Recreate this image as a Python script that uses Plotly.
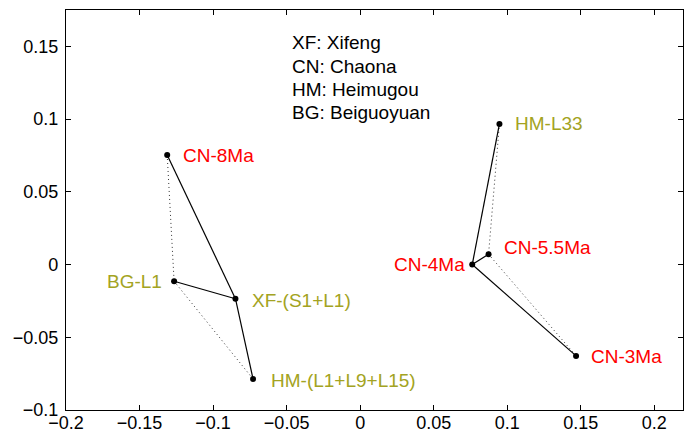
import plotly.graph_objects as go

# Data
names = ["CN-8Ma", "BG-L1", "XF-(S1+L1)", "HM-(L1+L9+L15)",
         "HM-L33", "CN-5.5Ma", "CN-4Ma", "CN-3Ma"]
xs = [-0.1312, -0.1265, -0.0848, -0.0728, 0.0947, 0.0873, 0.0762, 0.1468]
ys = [0.0753, -0.0115, -0.0235, -0.0787, 0.0967, 0.0071, 0.0, -0.0628]
groups = ["CN", "other", "other", "other", "other", "CN", "CN", "CN"]

solid_links = [(0, 2), (1, 2), (2, 3), (4, 6), (5, 6), (6, 7)]
dotted_links = [(0, 1), (1, 3), (4, 5), (5, 7)]

legend_lines = ["XF: Xifeng", "CN: Chaona", "HM: Heimugou", "BG: Beiguoyuan"]

x_ticks = [-0.2, -0.15, -0.1, -0.05, 0, 0.05, 0.1, 0.15, 0.2]
y_ticks = [-0.1, -0.05, 0, 0.05, 0.1, 0.15]

# label placement (pixel offsets, anchor)
label_place = {
    "CN-8Ma": (14, 0, "left"),
    "BG-L1": (-10, 0, "right"),
    "XF-(S1+L1)": (15, -2, "left"),
    "HM-(L1+L9+L15)": (16, -1, "left"),
    "HM-L33": (14, 0, "left"),
    "CN-5.5Ma": (13, 7, "left"),
    "CN-4Ma": (-5, 0, "right"),
    "CN-3Ma": (13, -1, "left"),
}

colors = {"CN": "#ff0000", "other": "#a3a322"}
FONT = "Liberation Sans, Arial, sans-serif"


def seg(links):
    sx, sy = [], []
    for a, b in links:
        sx += [xs[a], xs[b], None]
        sy += [ys[a], ys[b], None]
    return sx, sy


fig = go.Figure()
dx, dy = seg(dotted_links)
fig.add_trace(go.Scatter(x=dx, y=dy, mode="lines",
                         line=dict(color="#333333", width=1, dash="1px,3px"),
                         hoverinfo="skip"))
sx, sy = seg(solid_links)
fig.add_trace(go.Scatter(x=sx, y=sy, mode="lines",
                         line=dict(color="black", width=1.2),
                         hoverinfo="skip"))
fig.add_trace(go.Scatter(x=xs, y=ys, mode="markers",
                         marker=dict(color="black", size=6),
                         hovertext=names))

for n, x, y, g in zip(names, xs, ys, groups):
    ox, oy, anc = label_place[n]
    fig.add_annotation(x=x, y=y, text=n, showarrow=False, xanchor=anc,
                       yanchor="middle", xshift=ox, yshift=oy,
                       font=dict(family=FONT, size=19, color=colors[g]))

for i, t in enumerate(legend_lines):
    fig.add_annotation(x=-0.0475, y=0.1525 - i * 0.0161, text=t, showarrow=False,
                       xanchor="left", yanchor="middle",
                       font=dict(family=FONT, size=19, color="black"))


def fmt(v):
    s = ("%g" % v)
    return s.replace("-", "\u2212")


axis_common = dict(showline=True, linecolor="black", linewidth=1.2, mirror="ticks",
                   ticks="inside", ticklen=5, tickcolor="black", tickwidth=1,
                   showgrid=False, zeroline=False, automargin=False,
                   tickfont=dict(family=FONT, size=18, color="black"))

fig.update_xaxes(range=[-0.2, 0.2195], tickvals=x_ticks, ticklabelstandoff=-4,
                 ticktext=[fmt(v) for v in x_ticks], **axis_common)
fig.update_yaxes(range=[-0.1, 0.175], tickvals=y_ticks, ticklabelstandoff=3,
                 ticktext=[fmt(v) for v in y_ticks], **axis_common)

fig.update_layout(width=686, height=435, showlegend=False,
                  plot_bgcolor="white", paper_bgcolor="white",
                  margin=dict(l=66, r=3, t=10, b=25))

fig.write_html("out.html")
